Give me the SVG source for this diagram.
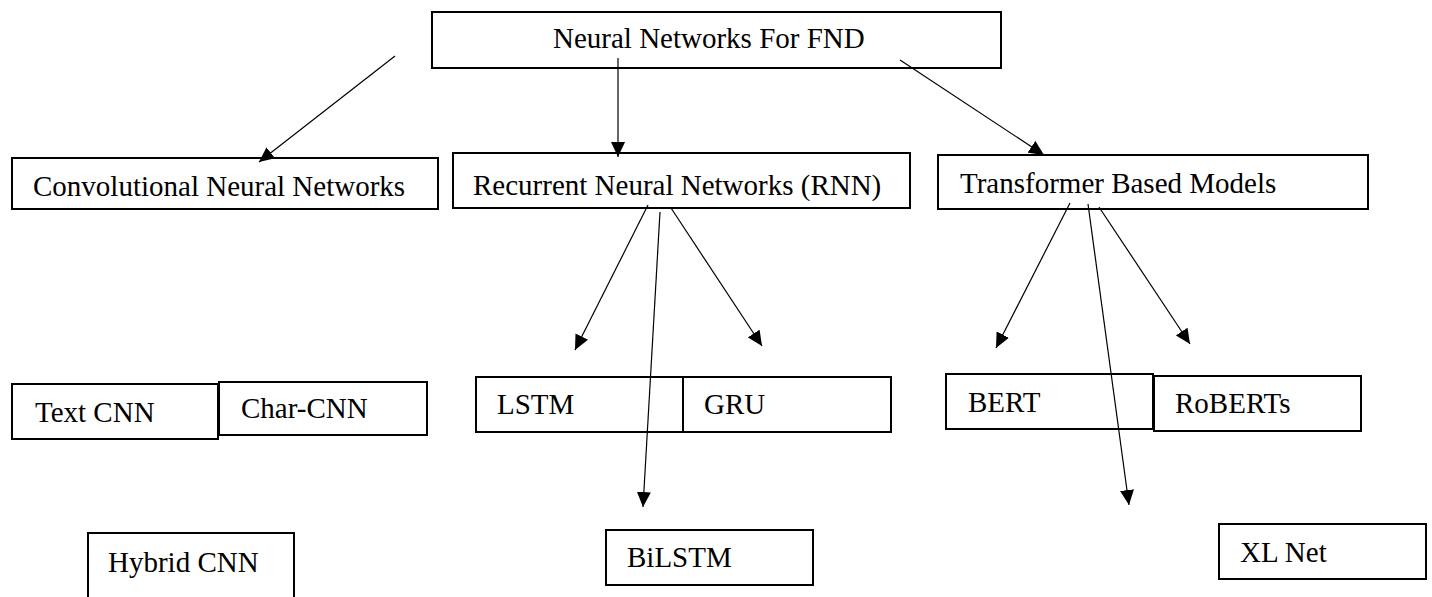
<svg xmlns="http://www.w3.org/2000/svg" width="1432" height="597" viewBox="0 0 1432 597">
<style>
.box{fill:#fff;stroke:#000;stroke-width:2}
.lbl{font-family:"Liberation Serif","Times New Roman",serif;font-size:29px;fill:#000}
.edge{stroke:#000;stroke-width:1.2;fill:none;marker-end:url(#ah)}
</style>
<defs>
<marker id="ah" markerUnits="userSpaceOnUse" markerWidth="16" markerHeight="14" refX="15" refY="7" orient="auto">
<path d="M0,0 L15,7 L0,14 Z" fill="#000"/>
</marker>
</defs>
<rect width="1432" height="597" fill="#fff"/>
<g id="n-root"><rect class="box" x="432" y="12" width="569" height="56"/><text class="lbl" x="553" y="48">Neural Networks For FND</text></g>
<g id="n-cnn"><rect class="box" x="12" y="158" width="426" height="51"/><text class="lbl" x="33" y="196">Convolutional Neural Networks</text></g>
<g id="n-rnn"><rect class="box" x="453" y="153" width="457" height="55"/><text class="lbl" x="473" y="195">Recurrent Neural Networks (RNN)</text></g>
<g id="n-trans"><rect class="box" x="938" y="155" width="430" height="54"/><text class="lbl" x="960" y="193">Transformer Based Models</text></g>
<g id="n-textcnn"><rect class="box" x="12" y="384" width="206" height="55"/><text class="lbl" x="35" y="422">Text CNN</text></g>
<g id="n-charcnn"><rect class="box" x="219" y="382" width="208" height="53"/><text class="lbl" x="241" y="418">Char-CNN</text></g>
<g id="n-hybrid"><rect class="box" x="88" y="533" width="206" height="70"/><text class="lbl" x="108" y="572">Hybrid CNN</text></g>
<g id="n-lstm"><rect class="box" x="476" y="377" width="207" height="55"/><text class="lbl" x="497" y="414">LSTM</text></g>
<g id="n-gru"><rect class="box" x="683" y="377" width="208" height="55"/><text class="lbl" x="704" y="414">GRU</text></g>
<g id="n-bilstm"><rect class="box" x="606" y="530" width="207" height="55"/><text class="lbl" x="627" y="567">BiLSTM</text></g>
<g id="n-bert"><rect class="box" x="946" y="374" width="207" height="55"/><text class="lbl" x="968" y="412">BERT</text></g>
<g id="n-roberts"><rect class="box" x="1154" y="376" width="207" height="55"/><text class="lbl" x="1175" y="413">RoBERTs</text></g>
<g id="n-xlnet"><rect class="box" x="1219" y="524" width="207" height="55"/><text class="lbl" x="1240" y="562">XL Net</text></g>
<g id="connectors">
<line class="edge" x1="395" y1="56" x2="259" y2="162"/>
<line class="edge" x1="618" y1="58" x2="618" y2="157"/>
<line class="edge" x1="900" y1="60" x2="1044" y2="155"/>
<line class="edge" x1="648" y1="205" x2="575" y2="350"/>
<line class="edge" x1="671" y1="208" x2="762" y2="346"/>
<line class="edge" x1="660" y1="212" x2="643" y2="507"/>
<line class="edge" x1="1070" y1="203" x2="996" y2="348"/>
<line class="edge" x1="1099" y1="207" x2="1190" y2="344"/>
<line class="edge" x1="1088" y1="204" x2="1129" y2="505"/>
</g>
</svg>
